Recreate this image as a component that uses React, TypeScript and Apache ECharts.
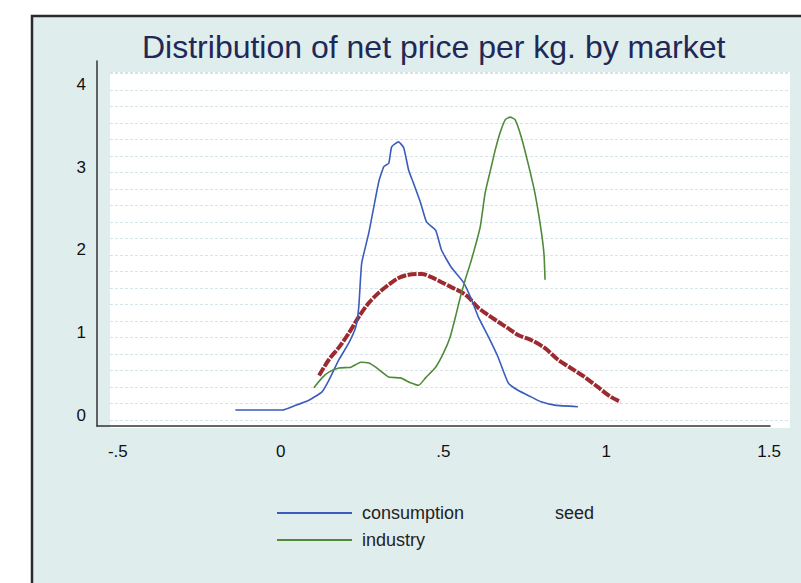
import React, { useEffect, useRef } from "react";
import * as echarts from "echarts";

// Kernel density estimates of net price per kg, one curve per market.
const consumptionDensity: [number, number][] = [
  [-0.139, 0.06], [0.005, 0.06], [0.041, 0.11], [0.087, 0.18], [0.127, 0.28],
  [0.148, 0.42], [0.179, 0.67], [0.209, 0.87], [0.231, 1.07], [0.24, 1.31],
  [0.249, 1.84], [0.271, 2.21], [0.301, 2.82], [0.317, 3.01], [0.332, 3.05],
  [0.341, 3.25], [0.362, 3.31], [0.378, 3.24], [0.393, 2.97], [0.408, 2.81],
  [0.43, 2.57], [0.448, 2.34], [0.476, 2.24], [0.494, 2.0], [0.524, 1.79],
  [0.561, 1.61], [0.583, 1.43], [0.607, 1.19], [0.638, 0.95], [0.668, 0.7],
  [0.699, 0.39], [0.729, 0.3], [0.769, 0.22], [0.8, 0.16], [0.842, 0.12],
  [0.913, 0.1],
];

const industryDensity: [number, number][] = [
  [0.102, 0.33], [0.127, 0.45], [0.148, 0.52], [0.179, 0.57], [0.216, 0.58],
  [0.246, 0.64], [0.271, 0.63], [0.292, 0.58], [0.332, 0.46], [0.368, 0.45],
  [0.399, 0.39], [0.424, 0.36], [0.445, 0.45], [0.476, 0.58], [0.5, 0.75],
  [0.521, 0.95], [0.537, 1.19], [0.552, 1.43], [0.567, 1.64], [0.586, 1.88],
  [0.613, 2.28], [0.628, 2.69], [0.647, 3.01], [0.659, 3.21], [0.674, 3.42],
  [0.69, 3.58], [0.705, 3.61], [0.72, 3.58], [0.739, 3.37], [0.76, 3.05],
  [0.781, 2.69], [0.8, 2.24], [0.809, 1.94], [0.812, 1.64],
];

const seedDensity: [number, number][] = [
  [0.118, 0.48], [0.148, 0.67], [0.179, 0.82], [0.209, 0.99], [0.24, 1.19],
  [0.271, 1.36], [0.301, 1.48], [0.332, 1.58], [0.362, 1.66], [0.393, 1.7],
  [0.433, 1.71], [0.463, 1.67], [0.494, 1.61], [0.524, 1.55], [0.555, 1.49],
  [0.576, 1.43], [0.607, 1.3], [0.638, 1.21], [0.668, 1.13], [0.699, 1.05],
  [0.729, 0.97], [0.769, 0.91], [0.812, 0.81], [0.852, 0.67], [0.891, 0.57],
  [0.934, 0.46], [0.974, 0.34], [1.014, 0.22], [1.044, 0.16],
];

const xTickValues = [-0.5, 0, 0.5, 1, 1.5];
const yTickValues = [0, 1, 2, 3, 4];

const FONT = "'Liberation Sans', Arial, Helvetica, sans-serif";

// Stata-style tick text: "-.5", "0", ".5", "1", "1.5"
const stataNumber = (v: number) => {
  if (v === 0) return "0";
  const sign = v < 0 ? "-" : "";
  return sign + String(Math.abs(v)).replace(/^0\./, ".");
};

export default function App() {
  const ref = useRef<HTMLDivElement>(null);

  useEffect(() => {
    if (!ref.current) return;
    const chart = echarts.init(ref.current, undefined, { renderer: "svg" });
    chart.setOption({
      animation: false,
      backgroundColor: "#ffffff",
      textStyle: { fontFamily: FONT },
      graphic: [
        {
          type: "rect",
          z: -100,
          shape: { x: 32, y: 16, width: 820, height: 620 },
          style: { fill: "#e0eded", stroke: "#2b2b2b", lineWidth: 2.5 },
        },
        {
          type: "rect",
          z: -90,
          shape: { x: 110, y: 72, width: 680, height: 356 },
          style: { fill: "#ffffff" },
        },
      ],
      title: {
        text: "Distribution of net price per kg. by market",
        left: 137,
        top: 26,
        textStyle: {
          fontFamily: FONT,
          fontSize: 32,
          fontWeight: "normal",
          color: "#1f2856",
        },
      },
      legend: [
        {
          data: ["consumption", "industry"],
          orient: "vertical",
          left: 277,
          top: 504,
          padding: 0,
          icon: "rect",
          itemWidth: 75,
          itemHeight: 2,
          itemGap: 9,
          textStyle: {
            fontFamily: FONT,
            fontSize: 18,
            color: "#222",
            padding: [0, 0, 0, 5],
          },
        },
        {
          data: [{ name: "seed", icon: "none" }],
          left: 540,
          top: 504,
          padding: 0,
          itemWidth: 10,
          itemHeight: 2,
          textStyle: { fontFamily: FONT, fontSize: 18, color: "#222" },
        },
      ],
      grid: [
        { left: 97, right: 31, top: 61, bottom: 157 },
        { left: 110, right: 11, top: 72, bottom: 163 },
      ],
      xAxis: [
        {
          type: "value",
          gridIndex: 0,
          min: -0.564,
          max: 1.503,
          axisLine: { show: true, onZero: false, lineStyle: { color: "#333", width: 1.5 } },
          axisTick: { show: false },
          splitLine: { show: false },
          axisLabel: {
            customValues: xTickValues,
            formatter: stataNumber,
            fontFamily: FONT,
            fontSize: 17,
            color: "#111",
            margin: 17,
          },
        },
        { type: "value", gridIndex: 1, min: 0, max: 1, show: false },
      ],
      yAxis: [
        {
          type: "value",
          gridIndex: 0,
          min: -0.133,
          max: 4.29,
          axisLine: { show: true, onZero: false, lineStyle: { color: "#333", width: 1.5 } },
          axisTick: { show: false },
          splitLine: { show: false },
          axisLabel: {
            customValues: yTickValues,
            formatter: stataNumber,
            fontFamily: FONT,
            fontSize: 17,
            color: "#111",
            margin: 11,
          },
        },
        {
          // faint background rules of the plot region
          type: "value",
          gridIndex: 1,
          min: 0,
          max: 21.1,
          interval: 1,
          axisLine: { show: false },
          axisTick: { show: false },
          axisLabel: { show: false },
          splitLine: {
            show: true,
            lineStyle: { color: "#d6e3e8", width: 1, type: [3, 2] },
          },
        },
      ],
      series: [
        {
          name: "consumption",
          type: "line",
          data: consumptionDensity,
          symbol: "none",
          smooth: 0.15,
          lineStyle: { color: "#3a5cbd", width: 1.6 },
          itemStyle: { color: "#3a5cbd" },
          z: 3,
        },
        {
          name: "seed",
          type: "line",
          data: seedDensity,
          symbol: "none",
          smooth: 0.3,
          lineStyle: { color: "#9c2a2e", width: 4, type: [9, 1.5] },
          itemStyle: { color: "#9c2a2e" },
          z: 2,
        },
        {
          name: "industry",
          type: "line",
          data: industryDensity,
          symbol: "none",
          smooth: 0.15,
          lineStyle: { color: "#4e8a3a", width: 1.6 },
          itemStyle: { color: "#4e8a3a" },
          z: 3,
        },
      ],
    });
    return () => chart.dispose();
  }, []);

  return (
    <div
      ref={ref}
      style={{ position: "fixed", left: 0, top: 0, width: 801, height: 583 }}
    />
  );
}
